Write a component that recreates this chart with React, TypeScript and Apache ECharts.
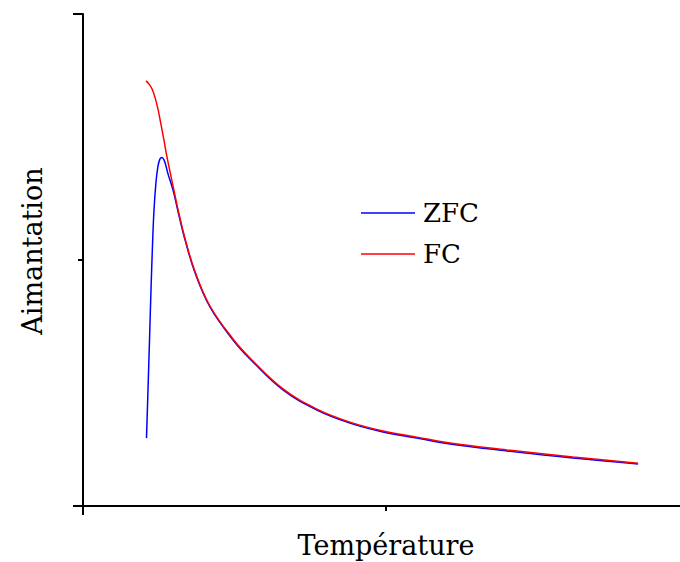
import React, { useEffect, useRef } from "react";
import * as echarts from "echarts";

const temperatureZFC = [20.96, 21.45, 21.95, 22.44, 22.94, 23.43, 24.09, 24.75, 25.41, 26.07, 26.73, 27.39, 28.05, 29.7, 31.4, 33.7, 37.0, 41.9, 49.5, 55.1, 66.0, 77.2, 88.1, 99.0, 110.2, 121.1, 139.9, 161.7, 183.2];
const magnetZFC = [0.276, 0.472, 0.675, 0.878, 1.061, 1.203, 1.317, 1.382, 1.411, 1.417, 1.407, 1.382, 1.350, 1.285, 1.195, 1.081, 0.947, 0.809, 0.675, 0.598, 0.472, 0.390, 0.337, 0.301, 0.276, 0.252, 0.224, 0.195, 0.171];

const temperatureFC = [20.8, 21.8, 22.8, 23.8, 24.8, 25.7, 26.7, 27.7, 28.7, 30.0, 31.4, 33.7, 37.0, 41.9, 49.5, 55.1, 66.0, 77.2, 88.1, 99.0, 110.2, 121.1, 139.9, 161.7, 183.2];
const magnetFC = [1.728, 1.715, 1.695, 1.659, 1.610, 1.553, 1.488, 1.420, 1.360, 1.284, 1.203, 1.086, 0.952, 0.813, 0.679, 0.602, 0.476, 0.394, 0.341, 0.305, 0.280, 0.256, 0.228, 0.199, 0.174];

const seriesNames = ["ZFC", "FC"];
const axisNames = ["Température", "Aimantation"];

const FONT = "DejaVu Serif";

export default function App() {
  const ref = useRef<HTMLDivElement>(null);
  useEffect(() => {
    if (!ref.current) return;
    const chart = echarts.init(ref.current, null, { renderer: "svg" });
    const zfc = temperatureZFC.map((t, i) => [t, magnetZFC[i]]);
    const fc = temperatureFC.map((t, i) => [t, magnetFC[i]]);
    chart.setOption({
      animation: false,
      backgroundColor: "#ffffff",
      grid: { left: 83, top: 14, right: -9, bottom: 56, containLabel: false, outerBoundsMode: "none" },
      legend: {
        orient: "vertical",
        left: 361,
        top: 198,
        padding: 0,
        itemWidth: 54,
        itemHeight: 1.5,
        itemGap: 11,
        icon: "rect",
        data: seriesNames,
        textStyle: { fontFamily: FONT, fontSize: 26, color: "#000", lineHeight: 30, padding: [0, 0, 0, 3] },
      },
      xAxis: {
        type: "value",
        min: 0,
        max: 200,
        interval: 100,
        name: axisNames[0],
        nameLocation: "middle",
        nameGap: 26,
        nameTextStyle: { fontFamily: FONT, fontSize: 27, color: "#000" },
        axisLine: { show: true, lineStyle: { color: "#000", width: 2 } },
        axisTick: { show: true, inside: false, length: 5, lineStyle: { color: "#000", width: 2 } },
        axisLabel: { show: false },
        splitLine: { show: false },
      },
      yAxis: {
        type: "value",
        min: 0,
        max: 2,
        interval: 1,
        name: axisNames[1],
        nameLocation: "middle",
        nameGap: 37,
        nameTextStyle: { fontFamily: FONT, fontSize: 27, color: "#000", padding: [0, 0, 0, 18] },
        axisLine: { show: true, lineStyle: { color: "#000", width: 2 } },
        axisTick: { show: true, length: 5, lineStyle: { color: "#000", width: 2 } },
        axisLabel: { show: false },
        splitLine: { show: false },
      },
      graphic: [
        { type: "line", shape: { x1: 73, y1: 14, x2: 83, y2: 14 }, style: { stroke: "#000", lineWidth: 2 } },
        { type: "line", shape: { x1: 73, y1: 506, x2: 83, y2: 506 }, style: { stroke: "#000", lineWidth: 2 } },
        { type: "line", shape: { x1: 83, y1: 506, x2: 83, y2: 515 }, style: { stroke: "#000", lineWidth: 2 } },
      ],
      series: [
        {
          name: seriesNames[0],
          type: "line",
          data: zfc,
          symbol: "none",
          smooth: 0.4,
          lineStyle: { color: "#0000ff", width: 1.5 },
          itemStyle: { color: "#0000ff" },
        },
        {
          name: seriesNames[1],
          type: "line",
          data: fc,
          symbol: "none",
          smooth: 0.4,
          lineStyle: { color: "#ff0000", width: 1.5 },
          itemStyle: { color: "#ff0000" },
        },
      ],
    });
    return () => chart.dispose();
  }, []);
  return <div ref={ref} style={{ width: 680, height: 562, position: "absolute", left: 0, top: 0 }} />;
}
